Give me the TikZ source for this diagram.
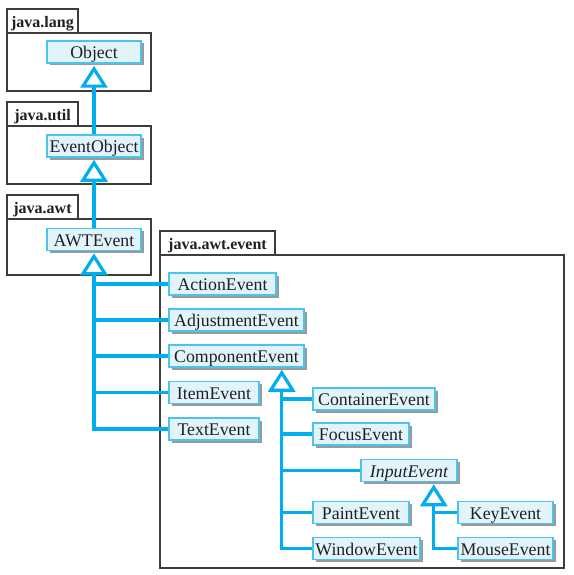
\documentclass[tikz,border=0pt]{standalone}
\usepackage{fontspec}
\setmainfont{Liberation Serif}
\usepackage{tikz}
\usetikzlibrary{arrows.meta,shadows}
\definecolor{umlline}{HTML}{00AEEF}
\definecolor{umlborder}{HTML}{4CC2EE}
\definecolor{umlfill}{HTML}{E1F4FB}
\definecolor{umlshadow}{HTML}{9A9A9A}
\definecolor{umltext}{HTML}{231F20}
\definecolor{pkgborder}{HTML}{3C3C3C}

\begin{document}
\begin{tikzpicture}[x=1pt,y=-1pt,
  cls/.style={draw=umlborder,fill=umlfill,line width=1.5pt,text=umltext,
    minimum width=#1,minimum height=22pt,inner sep=0pt,text height=14pt,text depth=1pt,
    font=\fontsize{17.8}{20}\selectfont,
    drop shadow={shadow xshift=2.5pt,shadow yshift=-2.5pt,fill=umlshadow,opacity=1}},
  cls/.default=96pt,
  pkg/.style={draw=pkgborder,line width=1.4pt,fill=white,inner sep=0pt,outer sep=0pt,anchor=north west},
  pkgtab/.style={draw=pkgborder,line width=1.4pt,fill=white,inner sep=0pt,outer sep=0pt,
    anchor=south west,minimum height=24pt,text height=13.6pt,text depth=1pt,
    text=umltext,font=\bfseries\fontsize{16}{18}\selectfont},
  inherit/.style={draw=umlline,line width=3.2pt,-{Triangle[open,length=22pt,width=27pt]},shorten >=2pt},
  branch/.style={draw=umlline,line width=3.2pt}]
\fill[white] (0,0) rectangle (573,575);
\useasboundingbox (0,0) rectangle (573,575);

\node[pkg,minimum width=144pt,minimum height=58pt] (langPkg) at (7,33) {};
\node[pkgtab,minimum width=71pt] (langTab) at (langPkg.north west) {java.lang};
\node[pkg,minimum width=144pt,minimum height=58pt] (utilPkg) at (7,126) {};
\node[pkgtab,minimum width=71pt] (utilTab) at (utilPkg.north west) {java.util};
\node[pkg,minimum width=144pt,minimum height=56pt] (awtPkg) at (7,219) {};
\node[pkgtab,minimum width=71pt] (awtTab) at (awtPkg.north west) {java.awt};
\node[pkg,minimum width=404pt,minimum height=313pt] (eventPkg) at (160,255) {};
\node[pkgtab,minimum width=115pt] (eventTab) at (eventPkg.north west) {java.awt.event};

\node[cls=94pt] (Object) at (94,52) {Object};
\node[cls=94pt] (EventObject) at (94,146) {EventObject};
\node[cls=94pt] (AWTEvent) at (94,239.5) {AWTEvent};
\node[cls=107pt] (ActionEvent) at (222.5,284) {ActionEvent};
\node[cls=135pt] (AdjustmentEvent) at (236.5,320) {AdjustmentEvent};
\node[cls=135pt] (ComponentEvent) at (236.5,356) {ComponentEvent};
\node[cls=90pt] (ItemEvent) at (214,392.5) {ItemEvent};
\node[cls=90pt] (TextEvent) at (214,429) {TextEvent};
\node[cls=122pt] (ContainerEvent) at (374,399) {ContainerEvent};
\node[cls] (FocusEvent) at (361,434) {FocusEvent};
\node[cls] (InputEvent) at (409,470.5) {\itshape InputEvent};
\node[cls] (PaintEvent) at (361,512.5) {PaintEvent};
\node[cls=107pt] (WindowEvent) at (366.5,548.5) {WindowEvent};
\node[cls=95pt] (KeyEvent) at (505.5,512.5) {KeyEvent};
\node[cls=95pt] (MouseEvent) at (505.5,548.5) {MouseEvent};

\draw[inherit] (EventObject) -- (Object);
\draw[inherit] (AWTEvent) -- (EventObject);
\draw[inherit] (TextEvent.west) -| (AWTEvent.south);
\foreach \n in {ActionEvent,AdjustmentEvent,ComponentEvent,ItemEvent}
  \draw[branch] (\n.west) -- (\n.west -| AWTEvent.south);
\coordinate (cmpHub) at ([xshift=-23pt]ComponentEvent.south east);
\draw[inherit] (WindowEvent.west) -| (cmpHub);
\foreach \n in {ContainerEvent,FocusEvent,InputEvent,PaintEvent}
  \draw[branch] (\n.west) -- (\n.west -| cmpHub);
\coordinate (inpHub) at ([xshift=-24pt]InputEvent.south east);
\draw[inherit] (MouseEvent.west) -| (inpHub);
\draw[branch] (KeyEvent.west) -- (KeyEvent.west -| inpHub);
\end{tikzpicture}
\end{document}
